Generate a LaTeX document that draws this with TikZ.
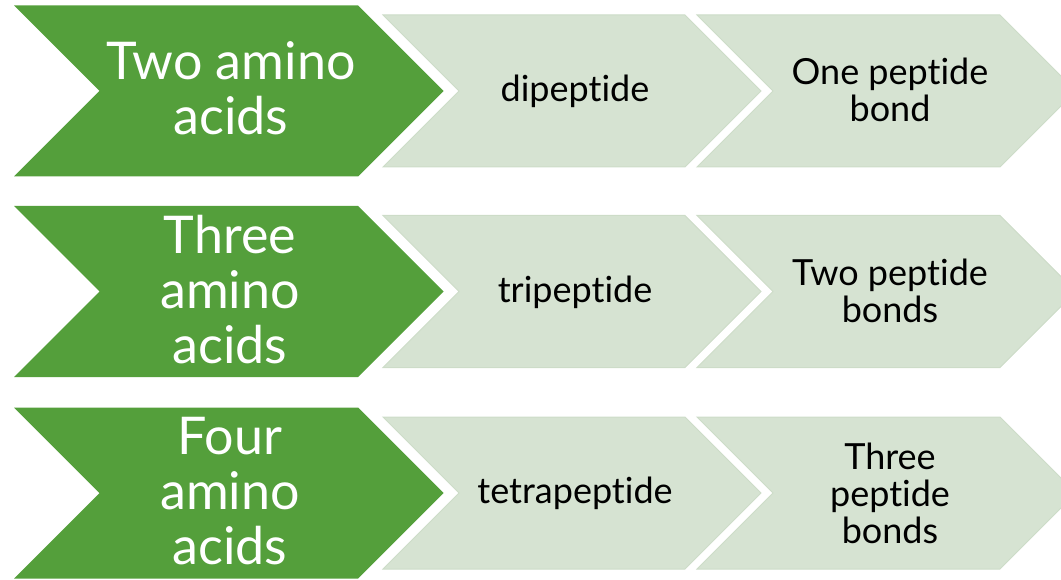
\documentclass[tikz,border=0pt]{standalone}
\usepackage{fontspec}
\setmainfont{Lato}[Ligatures=NoCommon]
\usetikzlibrary{positioning}

\definecolor{leafgreen}{RGB}{84,159,59}
\definecolor{palegreen}{RGB}{214,227,210}
\definecolor{paleedge}{RGB}{205,220,200}

\tikzset{
  amino/.style={text=white,align=center,font=\fontsize{52}{55}\selectfont},
  peptide/.style={text=black,align=center,font=\fontsize{36}{37}\selectfont},
  darkchev/.style={fill=leafgreen},
  palechev/.style={fill=palegreen,draw=paleedge,line width=1pt}
}

\begin{document}
\begin{tikzpicture}[line join=miter,x=1pt,y=-1pt]
  \useasboundingbox (0,0) rectangle (1061,580);
  \clip (0,0) rectangle (1061,580);
  % three rows of chevrons
  \foreach \cy in {91,291.5,493}
  {
    \fill[darkchev] (14,\cy-85.5) -- (358,\cy-85.5) -- (443.5,\cy) -- (358,\cy+85.5)
      -- (14,\cy+85.5) -- (99.5,\cy) -- cycle;
    \filldraw[palechev] (383,\cy-76) -- (685,\cy-76) -- (761,\cy) -- (685,\cy+76)
      -- (383,\cy+76) -- (459,\cy) -- cycle;
    \filldraw[palechev] (697,\cy-76) -- (1000,\cy-76) -- (1076,\cy) -- (1000,\cy+76)
      -- (697,\cy+76) -- (773,\cy) -- cycle;
  }
  % labels
  \node[amino] (two) at (231,88) {Two amino\\acids};
  \node[peptide] (di) at (575,91) {dipeptide};
  \node[peptide] (onebond) at (890,90) {One peptide\\bond};

  \node[amino] (three) at (230,290) {Three\\amino\\acids};
  \node[peptide] (tri) at (575,292) {tripeptide};
  \node[peptide] (twobond) at (890,291) {Two peptide\\bonds};

  \node[amino] (four) at (230,491) {Four\\amino\\acids};
  \node[peptide] (tetra) at (575,493) {tetrapeptide};
  \node[peptide] (threebond) at (890,493) {Three\\peptide\\bonds};
\end{tikzpicture}
\end{document}
